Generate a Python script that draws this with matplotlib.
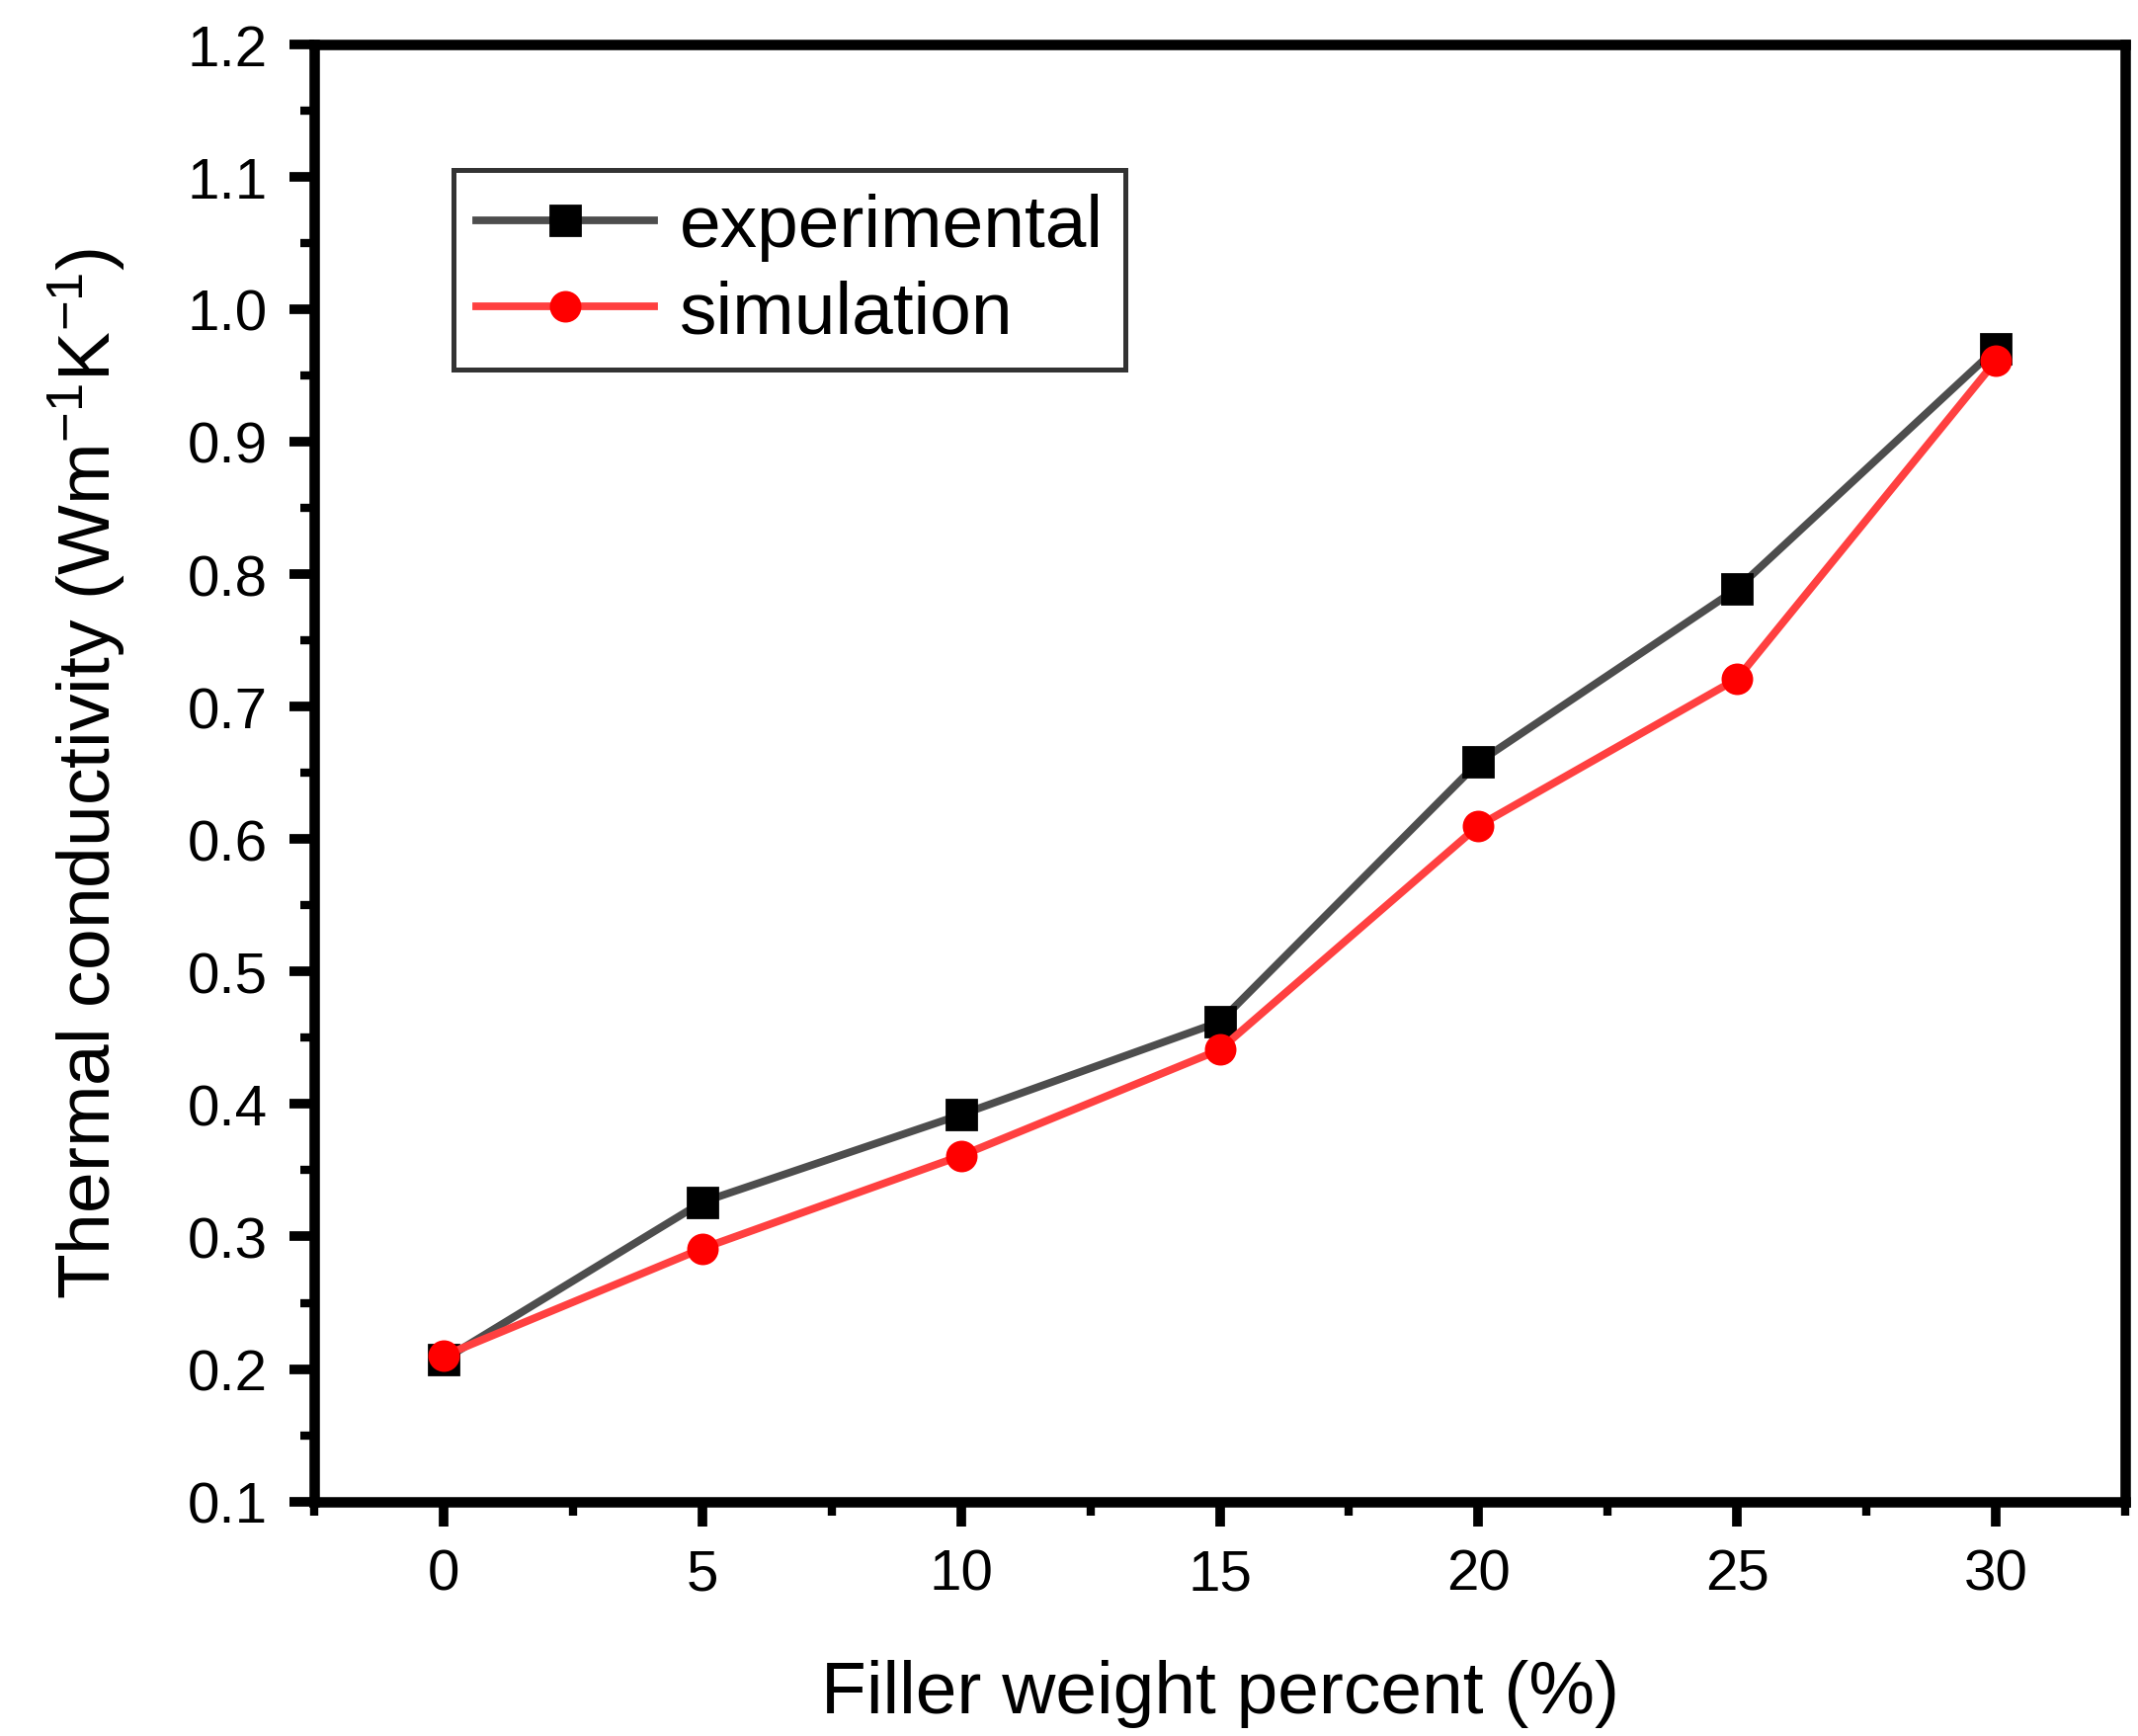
import matplotlib
matplotlib.use("Agg")
import matplotlib.pyplot as plt
from matplotlib.ticker import MultipleLocator

filler_pct = [0, 5, 10, 15, 20, 25, 30]
experimental = [0.207, 0.326, 0.392, 0.462, 0.658, 0.789, 0.970]
simulation = [0.210, 0.291, 0.361, 0.441, 0.610, 0.721, 0.961]

plt.rcParams['font.family'] = ['Liberation Sans', 'DejaVu Sans']
plt.rcParams['mathtext.default'] = 'regular'

fig = plt.figure(figsize=(10.82, 8.79), dpi=200)
ax = fig.add_axes([0.147, 0.135, 0.847, 0.839])

ax.plot(filler_pct, experimental, color='#4d4d4d', lw=2.8, marker='s',
        markersize=11, markerfacecolor='black', markeredgecolor='black',
        label='experimental', zorder=3)
ax.plot(filler_pct, simulation, color='#ff4040', lw=2.8, marker='o',
        markersize=10.5, markerfacecolor='#ff0000', markeredgecolor='#ff0000',
        label='simulation', zorder=4)

ax.set_xlim(-2.5, 32.5)
ax.set_ylim(0.1, 1.2)
ax.xaxis.set_major_locator(MultipleLocator(5))
ax.xaxis.set_minor_locator(MultipleLocator(2.5))
ax.yaxis.set_major_locator(MultipleLocator(0.1))
ax.yaxis.set_minor_locator(MultipleLocator(0.05))
ax.yaxis.set_major_formatter(matplotlib.ticker.FormatStrFormatter('%.1f'))

for s in ax.spines.values():
    s.set_linewidth(3.8)
ax.tick_params(which='major', direction='out', length=9, width=3.5, labelsize=21, pad=8)
ax.tick_params(which='minor', direction='out', length=5, width=3)
ax.tick_params(top=False, right=False, which='both')

ax.set_xlabel('Filler weight percent (%)', fontsize=27, labelpad=21)
ax.set_ylabel('Thermal conductivity (Wm$^{-1}$K$^{-1}$)', fontsize=27, labelpad=22)

leg = ax.legend(loc='upper left', bbox_to_anchor=(0.077, 0.9135), fontsize=27,
                frameon=True, fancybox=False, edgecolor='black',
                handlelength=2.4, handletextpad=0.35, borderpad=0.3,
                labelspacing=0.25, borderaxespad=0)
leg.get_frame().set_linewidth(1.8)

fig.savefig('out.png', dpi=200)
